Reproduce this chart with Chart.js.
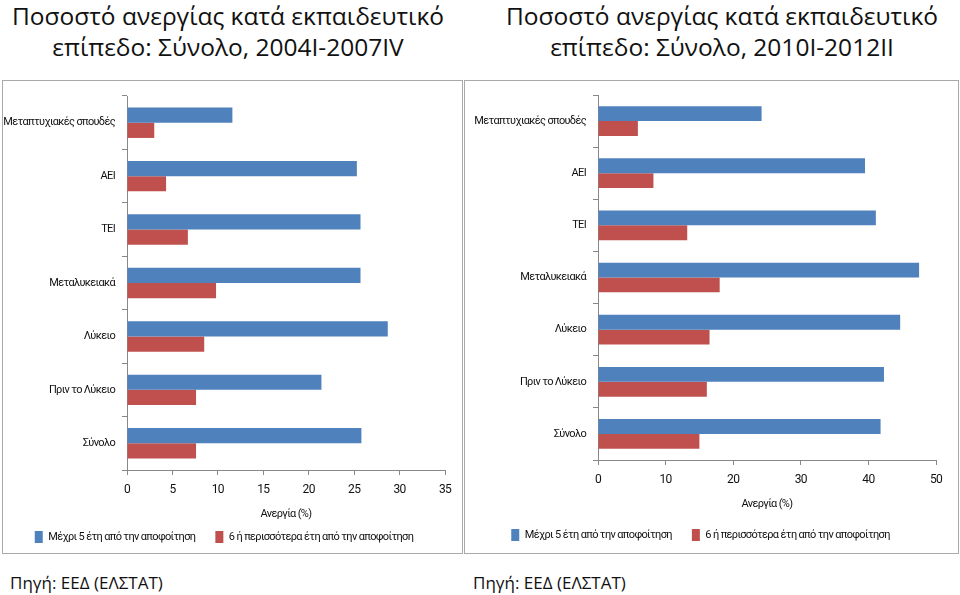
<!DOCTYPE html>
<html>
<head>
<meta charset="utf-8">
<script src="https://cdn.jsdelivr.net/npm/chart.js@4.4.1/dist/chart.umd.min.js"></script>
<style>
  body { margin: 0; background: #fff; width: 960px; height: 595px; position: relative; overflow: hidden; }
  .title { position: absolute; top: 0; text-align: center; font-family: "Open Sans", sans-serif; font-size: 24.5px; line-height: 31px; color: #111; }
  .frame { position: absolute; top: 80px; height: 474px; border: 1px solid #aaa; box-sizing: border-box; }
  .source { position: absolute; top: 571px; font-family: "Open Sans", sans-serif; font-size: 17px; color: #111; }
  canvas { display: block; }
</style>
</head>
<body>
<div class="title" style="left:0; width:456px;">Ποσοστό ανεργίας κατά εκπαιδευτικό<br>επίπεδο: Σύνολο, 2004I-2007IV</div>
<div class="title" style="left:484px; width:476px;">Ποσοστό ανεργίας κατά εκπαιδευτικό<br>επίπεδο: Σύνολο, 2010I-2012II</div>

<div class="frame" style="left:2px; width:461px;"><canvas id="leftChart" width="459" height="472"></canvas></div>
<div class="frame" style="left:464px; width:495px;"><canvas id="rightChart" width="493" height="472"></canvas></div>

<div class="source" style="left:10px;">Πηγή: ΕΕΔ (ΕΛΣΤΑΤ)</div>
<div class="source" style="left:473px;">Πηγή: ΕΕΔ (ΕΛΣΤΑΤ)</div>

<script>
// Categories (top to bottom)
const levels = ['Μεταπτυχιακές σπουδές', 'ΑΕΙ', 'ΤΕΙ', 'Μεταλυκειακά', 'Λύκειο', 'Πριν το Λύκειο', 'Σύνολο'];

// Series names
const seriesRecent = 'Μέχρι 5 έτη από την αποφοίτηση';
const seriesOlder = '6 ή περισσότερα έτη από την αποφοίτηση';

// 2004I-2007IV
const recent2004 = [11.6, 25.3, 25.7, 25.7, 28.7, 21.4, 25.8];
const older2004 = [3.0, 4.3, 6.7, 9.8, 8.5, 7.6, 7.6];

// 2010I-2012II
const recent2010 = [24.2, 39.5, 41.1, 47.5, 44.7, 42.3, 41.8];
const older2010 = [5.9, 8.2, 13.2, 18.0, 16.5, 16.1, 15.0];

const axisTitle = 'Ανεργία (%)';

const blue = '#4F81BD';
const red = '#C0504D';
const labelFont = { family: 'Roboto, sans-serif', size: 11 };

// Calibri-like narrow text: squeeze letters a bit
const tightText = {
    id: 'tightText',
    beforeLayout(chart) { chart.ctx.letterSpacing = '-0.65px'; },
    beforeDraw(chart) { chart.ctx.letterSpacing = '-0.65px'; }
};

// Build one horizontal bar chart
function createChart(id, recent, older, maxX, step, yWidth, xHeight, titleShift, padTop, padRight, padBottom) {
    const ctx = document.getElementById(id).getContext('2d');
    return new Chart(ctx, {
        type: 'bar',
        data: {
            labels: levels,
            datasets: [
                { label: seriesRecent, data: recent, backgroundColor: blue },
                { label: seriesOlder, data: older, backgroundColor: red }
            ]
        },
        options: {
            indexAxis: 'y',
            responsive: false,
            animation: false,
            categoryPercentage: 0.57,
            barPercentage: 1.0,
            layout: { padding: { top: padTop, right: padRight, bottom: padBottom, left: 0 } },
            scales: {
                x: {
                    min: 0,
                    max: maxX,
                    ticks: { stepSize: step, color: '#111', font: { family: 'Roboto, sans-serif', size: 12 }, padding: 8 },
                    grid: { drawOnChartArea: false, tickLength: 5, color: '#888' },
                    border: { color: '#888' },
                    title: { display: true, text: axisTitle, color: '#111', font: labelFont, padding: { top: 4, bottom: titleShift } },
                    afterFit: scale => { scale.height = xHeight; }
                },
                y: {
                    ticks: { color: '#111', font: labelFont, padding: 7 },
                    grid: { drawOnChartArea: false, offset: true, tickLength: 5, color: '#888' },
                    border: { color: '#888' },
                    afterFit: scale => { scale.width = yWidth; }
                }
            },
            plugins: {
                legend: {
                    position: 'bottom',
                    labels: { boxWidth: 8, boxHeight: 12, padding: 20, color: '#111', font: labelFont }
                },
                tooltip: { enabled: false }
            }
        },
        plugins: [tightText]
    });
}

createChart('leftChart', recent2004, older2004, 35, 5, 124, 41, -10, 15, 17, 0);
createChart('rightChart', recent2010, older2010, 50, 10, 133, 49, -2, 14, 22, 2);
</script>
</body>
</html>
